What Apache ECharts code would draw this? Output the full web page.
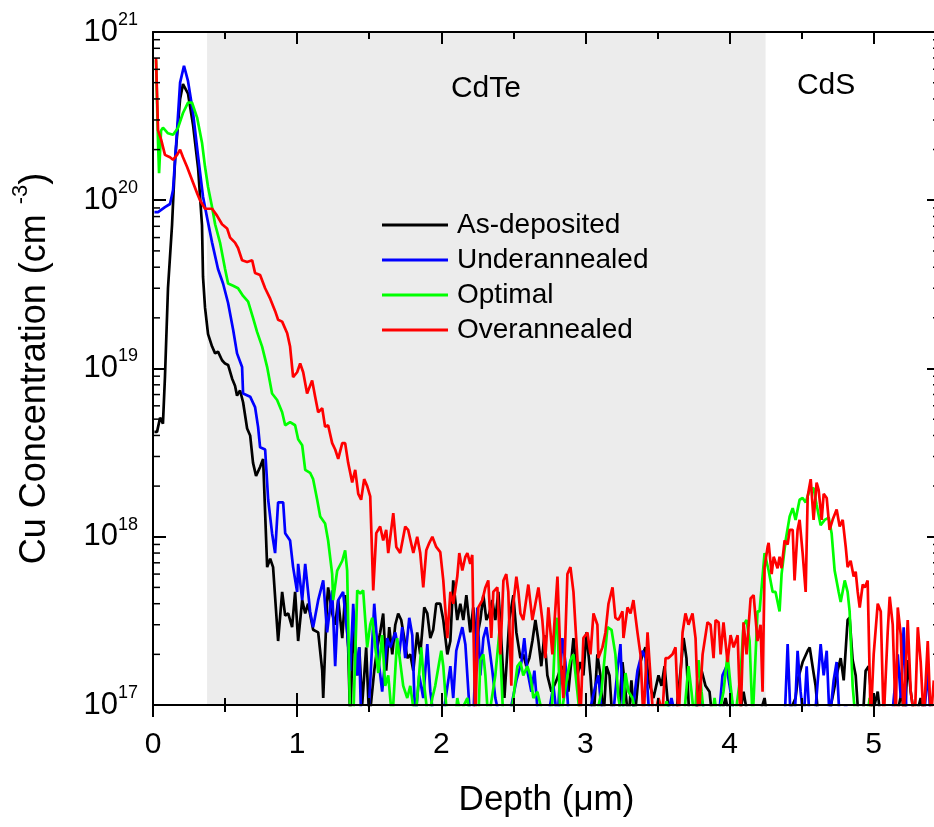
<!DOCTYPE html>
<html lang="en">
<head>
<meta charset="UTF-8">
<title>Cu depth profiles</title>
<style>
  html, body { margin: 0; padding: 0; background: #fff; }
  #main { width: 934px; height: 827px; }
</style>
</head>
<body>
<div id="main"></div>
<script src="https://cdn.jsdelivr.net/npm/echarts@6/dist/echarts.min.js"></script>
<script>
// depth in um, Cu concentration in cm^-3 (values below 1e17 fall off the axis)
const asDeposited = [
  [0.01,4.2e18],[0.028,4.2e18],[0.049,5.1e18],[0.069,4.7e18],[0.083,8.9e18],[0.104,3.0e19],[0.132,7.1e19],
  [0.153,1.74e20],[0.188,4.0e20],[0.208,4.9e20],[0.243,4.3e20],[0.278,2.8e20],[0.313,1.55e20],[0.340,7.1e19],
  [0.347,3.5e19],[0.361,2.3e19],[0.382,1.6e19],[0.410,1.35e19],[0.431,1.23e19],[0.451,1.26e19],[0.479,1.12e19],
  [0.500,1.07e19],[0.521,1.05e19],[0.549,8.7e18],[0.569,7.9e18],[0.583,6.9e18],[0.604,7.4e18],[0.625,6.3e18],
  [0.653,4.4e18],[0.674,4.0e18],[0.694,2.75e18],[0.715,2.3e18],[0.743,2.6e18],[0.764,2.9e18],[0.792,6.6e17],
  [0.813,7.4e17],[0.833,6.6e17],[0.868,2.4e17],[0.896,4.7e17],[0.917,3.4e17],[0.938,3.5e17],[0.965,2.9e17],
  [0.986,4.7e17],[1.007,2.4e17],[1.035,4.2e17],[1.056,3.5e17],[1.076,4.0e17],[1.111,2.8e17],[1.146,2.7e17],
  [1.174,1.6e17],[1.181,1.1e17],[1.208,4.2e17],[1.215,5.0e17],[1.243,3.5e17],[1.264,3.0e17],[1.285,4.2e17],
  [1.313,2.5e17],[1.333,4.5e17],[1.354,2.2e17],[1.368,8e16],[1.389,2.8e17],[1.417,1.5e17],[1.431,2.2e17],
  [1.451,1.0e17],[1.479,2.2e17],[1.500,8e16],[1.535,1.6e17],[1.556,2.2e17],[1.576,2.7e17],[1.597,3.5e17],
  [1.618,1.6e17],[1.639,2.9e17],[1.660,2.0e17],[1.681,3.0e17],[1.701,3.5e17],[1.722,3.2e17],[1.743,2.5e17],
  [1.764,1.9e17],[1.785,2.0e17],[1.806,1.6e17],[1.833,2.7e17],[1.854,2.0e17],[1.882,3.8e17],[1.903,3.5e17],
  [1.924,2.5e17],[1.944,2.8e17],[1.965,4.0e17],[1.993,4.0e17],[2.014,3.2e17],[2.042,2.0e17],[2.063,2.4e17],
  [2.083,5.5e17],[2.111,3.2e17],[2.132,4.0e17],[2.153,3.2e17],[2.174,4.5e17],[2.201,2.7e17],[2.222,3.8e17],
  [2.243,2.4e17],[2.271,3.2e17],[2.292,4.5e17],[2.313,3.2e17],[2.333,3.5e17],[2.354,4.2e17],[2.375,3.2e17],
  [2.396,4.7e17],[2.417,2.4e17],[2.438,1.1e17],[2.472,3.2e17],[2.500,4.5e17],[2.521,2.7e17],[2.549,1.9e17],
  [2.569,2.0e17],[2.590,1.7e17],[2.611,1.9e17],[2.632,2.4e17],[2.653,3.2e17],[2.674,2.4e17],[2.694,1.7e17],
  [2.715,2.6e17],[2.736,1.5e17],[2.764,1.2e17],[2.799,1.4e17],[2.833,1.7e17],[2.854,1.6e17],[2.882,1.2e17],
  [2.917,2.5e17],[2.944,1.5e17],[2.965,1.8e17],[2.986,1.5e17],[3.007,2.7e17],[3.035,1.5e17],[3.056,8e16],
  [3.083,2.0e17],[3.104,1.5e17],[3.125,8e16],[3.146,1.7e17],[3.167,1.5e17],[3.188,8e16],[3.229,8e16],
  [3.257,1.8e17],[3.278,1.2e17],[3.299,8e16],[3.319,1.4e17],[3.340,8e16],[3.375,1.7e17],[3.396,2.0e17],
  [3.417,2.2e17],[3.438,1.4e17],[3.472,1.1e17],[3.507,1.5e17],[3.528,1.3e17],[3.549,1.7e17],[3.583,8e16],
  [3.625,8e16],[3.660,1.6e17],[3.681,2.5e17],[3.701,1.9e17],[3.722,8e16],[3.764,8e16],[3.785,1.2e17],
  [3.806,1.6e17],[3.833,1.3e17],[3.861,1.2e17],[3.882,8e16],[3.931,8e16],[3.972,1.1e17],[4.007,8e16],
  [4.063,8e16],[4.097,1.2e17],[4.132,8e16],[4.194,8e16],[4.243,1.1e17],[4.264,8e16],[4.389,8e16],
  [4.458,1.1e17],[4.472,1.4e17],[4.507,1.8e17],[4.542,2.1e17],[4.556,2.2e17],[4.583,1.55e17],[4.597,1.3e17],
  [4.618,8e16],[4.681,8e16],[4.722,1.2e17],[4.750,1.6e17],[4.771,1.9e17],[4.792,1.4e17],[4.819,3.2e17],
  [4.833,3.3e17],[4.854,1.85e17],[4.875,1.5e17],[4.896,8e16],[4.924,8e16],[4.944,1.6e17],[4.965,1.7e17],
  [4.993,9e16],[5.028,1.2e17],[5.049,8e16],[5.153,8e16],[5.194,1.2e17],[5.215,8e16],[5.236,1.85e17],
  [5.257,1.2e17],[5.285,8e16],[5.326,1.1e17],[5.361,8e16],[5.420,9e16]
];

const underannealed = [
  [0.01,8.5e19],[0.035,8.5e19],[0.083,9.1e19],[0.118,9.5e19],[0.139,1.15e20],[0.167,2.6e20],[0.188,5.0e20],
  [0.215,6.3e20],[0.243,5.1e20],[0.278,3.3e20],[0.313,1.82e20],[0.347,1.05e20],[0.375,7.9e19],[0.410,5.6e19],
  [0.451,3.9e19],[0.486,3.2e19],[0.521,2.45e19],[0.556,1.7e19],[0.583,1.23e19],[0.618,1.02e19],[0.625,7.1e18],
  [0.674,6.8e18],[0.708,5.9e18],[0.729,4.5e18],[0.743,3.4e18],[0.778,3.3e18],[0.799,1.66e18],[0.826,1.05e18],
  [0.847,8e17],[0.868,1.6e18],[0.903,1.6e18],[0.917,1.05e18],[0.951,9.5e17],[0.972,6.6e17],[1.000,4.7e17],
  [1.007,6.9e17],[1.035,4.2e17],[1.056,6.9e17],[1.090,3.6e17],[1.111,2.9e17],[1.146,4.2e17],[1.181,5.5e17],
  [1.208,2.7e17],[1.243,4.8e17],[1.264,1.7e17],[1.285,4.2e17],[1.319,4.7e17],[1.347,2.7e17],[1.368,1.6e17],
  [1.389,4.0e17],[1.417,1.5e17],[1.431,2.2e17],[1.444,8e16],[1.493,8e16],[1.535,4.0e17],[1.563,1.9e17],
  [1.590,1.2e17],[1.625,2.5e17],[1.646,2.2e17],[1.681,2.7e17],[1.708,2.0e17],[1.729,2.9e17],[1.750,1.9e17],
  [1.778,3.3e17],[1.799,2.6e17],[1.819,8e16],[1.847,1.5e17],[1.875,1.1e17],[1.903,2.3e17],[1.924,1.2e17],
  [1.951,8e16],[2.007,8e16],[2.063,1.7e17],[2.083,1.1e17],[2.104,2.1e17],[2.146,2.9e17],[2.167,2.3e17],
  [2.194,1.0e17],[2.222,8e16],[2.250,3.8e17],[2.271,1.5e17],[2.292,2.5e17],[2.313,2.9e17],[2.333,2.2e17],
  [2.354,1.6e17],[2.375,1.1e17],[2.410,8e16],[2.465,8e16],[2.521,1.4e17],[2.556,1.8e17],[2.576,2.5e17],
  [2.597,1.6e17],[2.625,1.2e17],[2.646,1.6e17],[2.674,8e16],[2.736,8e16],[2.778,1.3e17],[2.806,8e16],
  [2.840,2.5e17],[2.861,1.8e17],[2.882,9e16],[2.931,8e16],[3.014,8e16],[3.069,1.3e17],[3.090,1.5e17],
  [3.118,8e16],[3.188,8e16],[3.222,1.6e17],[3.243,2.3e17],[3.264,8e16],[3.319,8e16],[3.361,1.6e17],
  [3.396,2.1e17],[3.417,1.9e17],[3.438,1.0e17],[3.472,8e16],[3.556,8e16],[3.597,1.1e17],[3.632,8e16],
  [3.750,8e16],[3.792,1.2e17],[3.840,8e16],[3.924,8e16],[3.951,1.5e17],[3.979,1.7e17],[4.007,1.2e17],
  [4.035,8e16],[4.382,8e16],[4.403,2.3e17],[4.424,8e16],[4.451,8e16],[4.472,2.1e17],[4.493,1.2e17],
  [4.514,8e16],[4.535,1.7e17],[4.556,8e16],[4.590,8e16],[4.632,2.3e17],[4.653,1.5e17],[4.674,2.1e17],
  [4.694,8e16],[4.722,1.4e17],[4.743,1.8e17],[4.764,8e16],[4.806,1.0e17],[4.840,8e16],[5.125,8e16],
  [5.167,2.0e17],[5.188,1.1e17],[5.208,2.9e17],[5.229,8e16],[5.347,8e16],[5.375,1.6e17],[5.396,8e16],
  [5.420,8e16]
];

const optimal = [
  [0.021,6.8e20],[0.035,2.2e20],[0.042,1.45e20],[0.056,2.6e20],[0.069,2.7e20],[0.104,2.5e20],[0.139,2.45e20],
  [0.174,2.7e20],[0.208,3.3e20],[0.243,3.8e20],[0.271,3.8e20],[0.306,3.1e20],[0.340,2.2e20],[0.361,1.58e20],
  [0.382,1.2e20],[0.410,9.1e19],[0.431,7.2e19],[0.465,5.6e19],[0.500,3.9e19],[0.521,3.2e19],[0.556,3.1e19],
  [0.590,3.0e19],[0.625,2.7e19],[0.660,2.5e19],[0.694,2.0e19],[0.722,1.65e19],[0.757,1.35e19],[0.792,1.02e19],
  [0.826,7.1e18],[0.861,6.5e18],[0.896,5.5e18],[0.917,4.6e18],[0.951,4.8e18],[0.986,4.6e18],[1.007,3.8e18],
  [1.035,3.5e18],[1.056,2.5e18],[1.090,2.4e18],[1.111,2.2e18],[1.139,1.66e18],[1.160,1.32e18],[1.194,1.2e18],
  [1.215,9.5e17],[1.243,6.0e17],[1.250,4.2e17],[1.278,6.3e17],[1.313,7.2e17],[1.333,8.3e17],[1.347,6.3e17],
  [1.368,8e16],[1.389,8e16],[1.417,4.8e17],[1.438,4.6e17],[1.458,4.8e17],[1.486,2.2e17],[1.507,3.0e17],
  [1.521,3.3e17],[1.542,2.2e17],[1.563,1.55e17],[1.590,2.6e17],[1.611,1.3e17],[1.632,1.5e17],[1.660,8e16],
  [1.694,2.5e17],[1.715,1.8e17],[1.736,1.3e17],[1.764,1.1e17],[1.785,1.3e17],[1.819,8e16],[1.840,1.3e17],
  [1.861,2.2e17],[1.882,1.3e17],[1.910,8e16],[1.938,1.1e17],[1.958,1.3e17],[1.986,1.8e17],[2.000,2.1e17],
  [2.014,1.7e17],[2.042,8e16],[2.097,8e16],[2.111,1.1e17],[2.132,9e16],[2.181,1.1e17],[2.201,8e16],
  [2.257,8e16],[2.271,1.85e17],[2.292,2.0e17],[2.306,1.5e17],[2.326,8e16],[2.375,1.5e17],[2.403,2.7e17],
  [2.431,8e16],[2.479,8e16],[2.500,1.1e17],[2.528,1.7e17],[2.549,1.8e17],[2.569,1.5e17],[2.597,1.7e17],
  [2.618,1.5e17],[2.639,1.1e17],[2.667,1.2e17],[2.688,1.0e17],[2.708,8e16],[2.764,8e16],[2.792,2.9e17],
  [2.806,3.3e17],[2.826,8e16],[2.875,1.5e17],[2.896,1.85e17],[2.917,2.0e17],[2.944,1.2e17],[2.965,8e16],
  [3.069,8e16],[3.111,1.2e17],[3.153,2.9e17],[3.181,2.8e17],[3.208,2.0e17],[3.229,1.1e17],[3.257,8e16],
  [3.278,1.55e17],[3.299,1.2e17],[3.326,1.1e17],[3.347,9e16],[3.389,8e16],[3.528,8e16],[3.563,1.05e17],
  [3.597,8e16],[3.681,8e16],[3.715,1.7e17],[3.736,1.2e17],[3.757,8e16],[3.785,1.85e17],[3.806,1.2e17],
  [3.826,8e16],[3.875,8e16],[3.896,1.1e17],[3.917,8e16],[3.958,1.2e17],[3.986,2.0e17],[4.007,1.3e17],
  [4.035,8e16],[4.076,1.5e17],[4.097,3.0e17],[4.118,3.2e17],[4.139,2.4e17],[4.160,8e16],[4.194,3.6e17],
  [4.208,3.6e17],[4.243,8e17],[4.271,6.3e17],[4.299,4.7e17],[4.319,4.7e17],[4.347,3.6e17],[4.361,6.0e17],
  [4.389,9.5e17],[4.417,1.32e18],[4.438,1.48e18],[4.458,1.26e18],[4.486,1.66e18],[4.507,1.7e18],[4.528,1.6e18],
  [4.556,1.9e18],[4.583,1.95e18],[4.604,1.55e18],[4.632,1.17e18],[4.660,1.26e18],[4.688,1.3e18],[4.708,1.05e18],
  [4.729,6.3e17],[4.757,4.7e17],[4.771,4.1e17],[4.799,5.5e17],[4.819,4.7e17],[4.833,3.6e17],[4.854,1.3e17],
  [4.875,8e16],[4.951,8e16],[4.972,1.1e17],[4.993,8e16],[5.420,8e16]
];

const overannealed = [
  [0.021,7.0e20],[0.035,2.6e20],[0.056,2.3e20],[0.083,1.86e20],[0.118,1.8e20],[0.139,1.74e20],[0.167,1.86e20],
  [0.188,2.0e20],[0.208,1.8e20],[0.236,1.58e20],[0.271,1.32e20],[0.306,1.1e20],[0.326,1.0e20],[0.361,8.9e19],
  [0.410,8.9e19],[0.444,8.1e19],[0.479,7.2e19],[0.514,6.8e19],[0.535,6.0e19],[0.569,5.6e19],[0.590,5.2e19],
  [0.618,4.4e19],[0.653,4.3e19],[0.688,4.4e19],[0.708,3.7e19],[0.743,3.6e19],[0.778,3.0e19],[0.813,2.6e19],
  [0.847,2.2e19],[0.868,1.95e19],[0.896,1.9e19],[0.931,1.62e19],[0.951,1.35e19],[0.972,8.9e18],[1.000,9.5e18],
  [1.021,1.07e19],[1.042,9.5e18],[1.069,7.1e18],[1.104,8.5e18],[1.125,6.8e18],[1.146,5.5e18],[1.174,5.8e18],
  [1.194,4.5e18],[1.215,4.6e18],[1.243,3.6e18],[1.264,3.3e18],[1.285,2.9e18],[1.313,3.6e18],[1.333,3.6e18],
  [1.354,2.75e18],[1.382,2.1e18],[1.403,2.5e18],[1.424,1.8e18],[1.444,1.66e18],[1.465,2.2e18],[1.486,2.0e18],
  [1.507,1.74e18],[1.528,4.8e17],[1.549,1.05e18],[1.576,1.15e18],[1.597,9.5e17],[1.618,1.1e18],[1.632,8e17],
  [1.667,1.38e18],[1.688,8.7e17],[1.715,8e17],[1.750,1.15e18],[1.770,1.1e18],[1.806,8e17],[1.833,1.0e18],
  [1.854,8e17],[1.875,5e17],[1.896,8.3e17],[1.917,9.2e17],[1.938,1.0e18],[1.965,8.7e17],[1.993,8.1e17],
  [2.014,5.5e17],[2.042,2.5e17],[2.063,4.7e17],[2.083,4.0e17],[2.111,5.8e17],[2.125,8e17],[2.146,6.3e17],
  [2.167,7.6e17],[2.181,8e17],[2.201,6.9e17],[2.215,7.8e17],[2.222,3.2e17],[2.236,8e16],[2.257,3.8e17],
  [2.285,4.2e17],[2.306,5.0e17],[2.326,5.5e17],[2.347,2.5e17],[2.361,4.7e17],[2.389,5.0e17],[2.410,2.0e17],
  [2.431,5.5e17],[2.451,6.0e17],[2.465,4.7e17],[2.486,1.3e17],[2.500,4.0e17],[2.521,5.8e17],[2.535,4.7e17],
  [2.549,3.5e17],[2.569,3.2e17],[2.604,5.2e17],[2.632,3.2e17],[2.653,4.0e17],[2.674,5.0e17],[2.701,3.2e17],
  [2.722,1.9e17],[2.743,3.8e17],[2.771,2.0e17],[2.806,5.8e17],[2.826,2.0e17],[2.847,1.1e17],[2.875,6.0e17],
  [2.896,6.6e17],[2.917,4.7e17],[2.944,1.9e17],[2.965,8e16],[2.986,2.5e17],[3.014,2.7e17],[3.035,2.0e17],
  [3.056,3.5e17],[3.083,3.0e17],[3.090,1.9e17],[3.118,2.2e17],[3.139,2.7e17],[3.160,4.0e17],[3.188,5.0e17],
  [3.208,3.3e17],[3.229,3.2e17],[3.257,3.6e17],[3.264,2.5e17],[3.292,3.8e17],[3.313,3.5e17],[3.333,4.2e17],
  [3.361,2.7e17],[3.382,2.0e17],[3.403,8e16],[3.431,2.7e17],[3.451,1.5e17],[3.472,8e16],[3.507,1.1e17],
  [3.535,9e16],[3.556,1.9e17],[3.576,1.9e17],[3.604,2.0e17],[3.625,2.2e17],[3.646,8e16],[3.674,2.7e17],
  [3.694,3.5e17],[3.715,3.0e17],[3.743,3.5e17],[3.764,2.5e17],[3.785,8e16],[3.813,2.0e17],[3.847,3.1e17],
  [3.868,3.0e17],[3.889,1.9e17],[3.903,3.2e17],[3.924,3.1e17],[3.938,2.0e17],[3.958,3.1e17],[3.986,1.8e17],
  [4.007,2.6e17],[4.028,2.2e17],[4.056,2.6e17],[4.076,8e16],[4.097,3.1e17],[4.118,2.0e17],[4.146,4.3e17],
  [4.167,4.5e17],[4.194,2.4e17],[4.215,3.0e17],[4.229,1.2e17],[4.243,6.6e17],[4.264,8.7e17],[4.271,9.2e17],
  [4.292,6.0e17],[4.306,7.6e17],[4.319,7.8e17],[4.333,6.5e17],[4.347,7.6e17],[4.361,6.5e17],[4.382,9.5e17],
  [4.403,9e17],[4.417,1.1e18],[4.438,1.1e18],[4.451,5.5e17],[4.472,1.1e18],[4.486,1.26e18],[4.507,8e17],
  [4.528,4.7e17],[4.542,1.74e18],[4.563,2.2e18],[4.583,1.26e18],[4.604,2.1e18],[4.618,1.9e18],[4.639,1.26e18],
  [4.653,1.8e18],[4.674,1.7e18],[4.694,1.1e18],[4.715,1.26e18],[4.743,1.45e18],[4.764,1.15e18],[4.785,1.26e18],
  [4.806,8.7e17],[4.819,6.6e17],[4.840,7.2e17],[4.861,5.8e17],[4.875,6.2e17],[4.889,4.7e17],[4.903,3.8e17],
  [4.924,5.2e17],[4.938,5.0e17],[4.958,5.5e17],[4.979,8e16],[5.000,2.0e17],[5.028,4.0e17],[5.049,3.6e17],
  [5.069,8e16],[5.097,2.7e17],[5.111,4.4e17],[5.132,3.0e17],[5.153,8e16],[5.167,3.8e17],[5.188,2.6e17],
  [5.208,8e16],[5.236,3.2e17],[5.257,1.2e17],[5.285,8e16],[5.306,2.9e17],[5.326,1.8e17],[5.347,8e16],
  [5.375,2.4e17],[5.396,8e16],[5.417,1.4e17]
];

const seriesNames = ['As-deposited', 'Underannealed', 'Optimal', 'Overannealed'];
const seriesColors = ['#000000', '#0000ff', '#00ff00', '#ff0000'];
const xTickLabels = ['0', '1', '2', '3', '4', '5'];
const yTickValues = [1e17, 1e18, 1e19, 1e20, 1e21];
const yTickPowers = ['17', '18', '19', '20', '21'];
const cdteRange = [0.375, 4.25];
const layerLabels = [
  { name: 'CdTe', coord: [2.31, 4.6e20] },
  { name: 'CdS', coord: [4.67, 4.8e20] }
];

const X_MAX = 5.46;
const FONT = 'Liberation Sans, Arial, Helvetica, sans-serif';

// minor ticks of the log axis (2..9 in every decade)
const minorTickValues = [];
for (let e = 17; e < 21; e++) {
  for (let m = 2; m <= 9; m++) minorTickValues.push(m * Math.pow(10, e));
}

var chart = echarts.init(document.getElementById('main'), null, { renderer: 'canvas' });

function xAxisDef(extra) {
  return Object.assign({
    type: 'value', gridIndex: 0, min: 0, max: X_MAX, interval: 1,
    position: 'bottom', z: 5,
    axisLine: { show: false, onZero: false },
    axisTick: { show: true, inside: true, length: 12, lineStyle: { color: '#000', width: 2 } },
    axisLabel: { show: false },
    splitLine: { show: false }
  }, extra);
}

function yAxisDef(extra) {
  return Object.assign({
    type: 'log', logBase: 10, min: 1e17, max: 1e21, splitNumber: 4, z: 5,
    axisLine: { show: true, onZero: false, lineStyle: { color: '#000', width: 2 } },
    axisTick: { show: true, inside: true, length: 13, lineStyle: { color: '#000', width: 2 } },
    axisLabel: { show: false },
    splitLine: { show: false },
    minorTick: { show: false }
  }, extra);
}

const lineSeries = [asDeposited, underannealed, optimal, overannealed].map(function (d, i) {
  return {
    name: seriesNames[i],
    type: 'line',
    data: d,
    xAxisIndex: 0,
    yAxisIndex: 0,
    showSymbol: false,
    symbol: 'none',
    clip: true,
    color: seriesColors[i],
    lineStyle: { color: seriesColors[i], width: 2.7 },
    emphasis: { disabled: true },
    z: 3
  };
});

lineSeries[0].markArea = {
  silent: true,
  z: 1,
  itemStyle: { color: '#ececec' },
  label: { show: false },
  data: [[{ xAxis: cdteRange[0] }, { xAxis: cdteRange[1] }]]
};

lineSeries[3].markPoint = {
  silent: true,
  symbol: 'circle',
  symbolSize: 1,
  itemStyle: { color: 'rgba(0,0,0,0)' },
  label: {
    show: true, position: 'inside', formatter: '{b}',
    color: '#000', fontSize: 30, fontFamily: FONT
  },
  data: layerLabels
};

const minorTickSeries = {
  type: 'custom',
  name: 'minorTicks',
  xAxisIndex: 0,
  yAxisIndex: 0,
  silent: true,
  clip: false,
  z: 6,
  data: minorTickValues.map(function (v) { return [0, v]; }),
  renderItem: function (params, api) {
    const v = api.value(1);
    const l = api.coord([0, v]);
    const r = api.coord([X_MAX, v]);
    const st = { stroke: '#000', lineWidth: 1.5 };
    return {
      type: 'group',
      children: [
        { type: 'line', shape: { x1: l[0], y1: l[1], x2: l[0] + 7, y2: l[1] }, style: st },
        { type: 'line', shape: { x1: r[0] - 7, y1: r[1], x2: r[0], y2: r[1] }, style: st }
      ]
    };
  }
};

var option = {
  animation: false,
  backgroundColor: '#ffffff',
  textStyle: { fontFamily: FONT },
  grid: { left: 153, right: -6, top: 32, bottom: 122, containLabel: false, outerBoundsMode: 'none' },
  legend: {
    data: seriesNames,
    orient: 'vertical',
    left: 377,
    top: 206,
    itemWidth: 66,
    itemHeight: 3,
    itemGap: 7,
    icon: 'rect',
    selectedMode: false,
    textStyle: { fontSize: 28, color: '#000', fontFamily: FONT, padding: [0, 0, 0, 4] }
  },
  xAxis: [
    xAxisDef({
      axisLine: { show: true, onZero: false, lineStyle: { color: '#000', width: 2 } },
      axisTick: { show: true, inside: false, length: 12, lineStyle: { color: '#000', width: 2 } },
      axisLabel: {
        show: true, fontSize: 30, color: '#000', fontFamily: FONT, margin: 25,
        formatter: function (v) {
          const k = Math.round(v);
          return (Math.abs(v - k) < 1e-6 && k < xTickLabels.length) ? xTickLabels[k] : '';
        }
      },
      name: 'Depth (\u03bcm)',
      nameLocation: 'middle',
      nameGap: 78,
      nameTextStyle: { fontSize: 35, color: '#000', fontFamily: FONT }
    }),
    xAxisDef({}),
    xAxisDef({ interval: 0.5, axisTick: { show: true, inside: false, length: 7, lineStyle: { color: '#000', width: 2 } } }),
    xAxisDef({ interval: 0.5, axisTick: { show: true, inside: true, length: 7, lineStyle: { color: '#000', width: 2 } } }),
    xAxisDef({ position: 'top', axisLine: { show: true, onZero: false, lineStyle: { color: '#000', width: 2 } } }),
    xAxisDef({ position: 'top', interval: 0.5, axisTick: { show: true, inside: true, length: 7, lineStyle: { color: '#000', width: 2 } } })
  ],
  yAxis: [
    yAxisDef({
      position: 'left',
      axisLabel: {
        show: true, margin: 15, color: '#000', fontFamily: FONT,
        formatter: function (v) {
          const i = yTickValues.findIndex(function (t) { return Math.abs(Math.log10(t) - Math.log10(v)) < 0.01; });
          return i < 0 ? '' : '{b|10}{s|' + yTickPowers[i] + '}';
        },
        rich: {
          b: { fontSize: 31, fontFamily: FONT, color: '#000', lineHeight: 42, verticalAlign: 'middle' },
          s: { fontSize: 18, fontFamily: FONT, color: '#000', lineHeight: 18, verticalAlign: 'top' }
        }
      },
      name: 'Cu Concentration (cm {sup|-3})',
      nameLocation: 'middle',
      nameRotate: 90,
      nameGap: 93,
      nameTextStyle: {
        fontSize: 36, color: '#000', fontFamily: FONT, lineHeight: 50,
        rich: { sup: { fontSize: 22, fontFamily: FONT, color: '#000', lineHeight: 22, verticalAlign: 'top' } }
      }
    }),
    yAxisDef({ position: 'right' })
  ],
  series: lineSeries.concat([minorTickSeries])
};

option && chart.setOption(option);
</script>
</body>
</html>
